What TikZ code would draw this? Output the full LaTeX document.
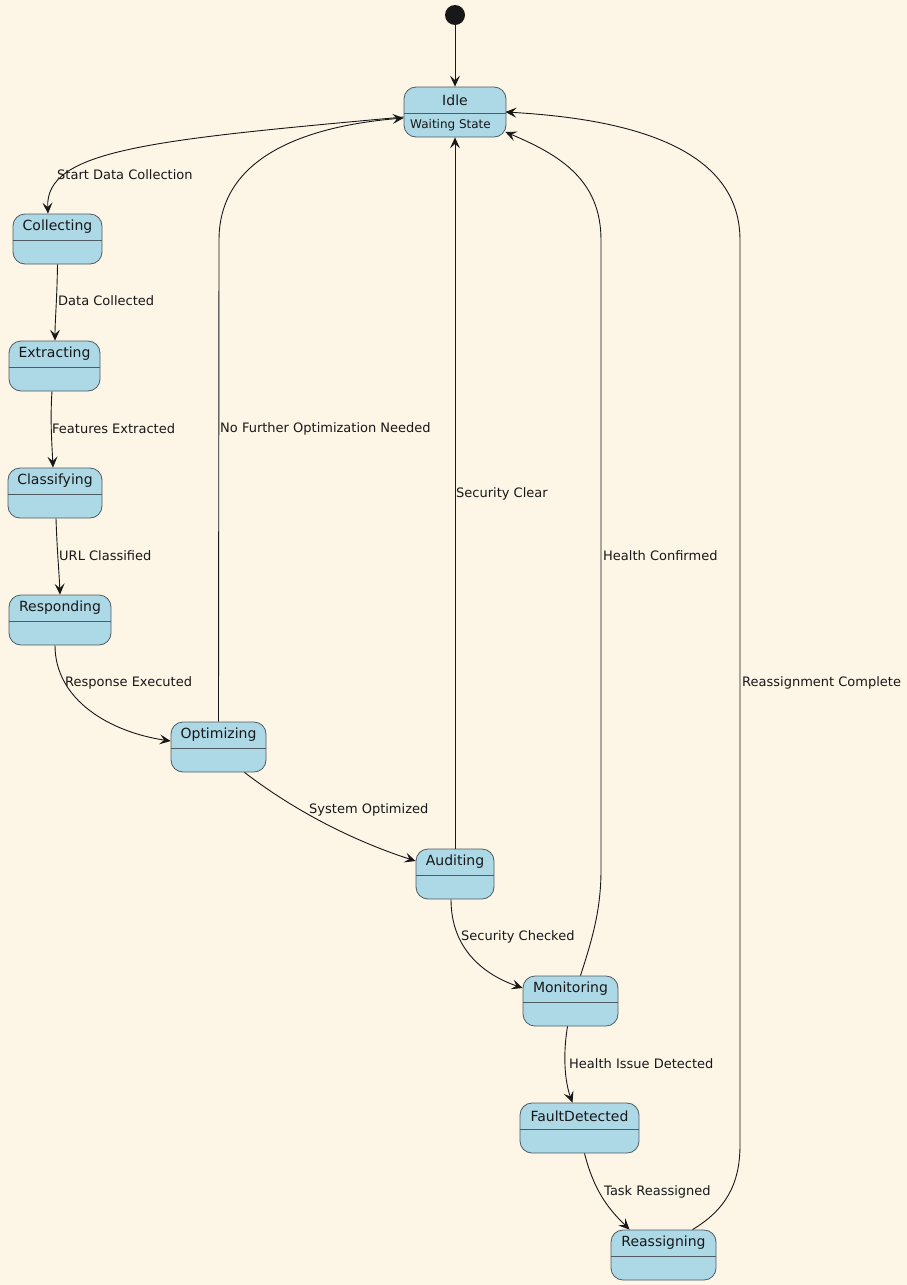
\documentclass[tikz,border=0pt]{standalone}
\usepackage{fontspec}
\setmainfont{DejaVu Sans}
\usetikzlibrary{arrows.meta}
\definecolor{bgcol}{HTML}{FDF5E6}
\definecolor{statefill}{HTML}{ADD8E6}
\definecolor{stateline}{HTML}{4F5B63}
\definecolor{ink}{HTML}{181818}
\tikzset{
  statebox/.style={draw=stateline, fill=statefill, rounded corners=12pt, line width=0.8pt,
    minimum height=50pt, inner sep=0pt},
  sepline/.style={draw=stateline, line width=0.8pt},
  title/.style={font=\fontsize{14}{16}\selectfont, text=ink, inner sep=0pt},
  desc/.style={font=\fontsize{12}{14}\selectfont, text=ink, inner sep=0pt, anchor=west},
  tr/.style={draw=ink, line width=0.9pt, -{Stealth[length=11pt,width=10pt,inset=4.5pt]}},
  trlabel/.style={font=\fontsize{13}{15}\selectfont, text=ink, inner sep=0pt, anchor=west},
}
\begin{document}
\begin{tikzpicture}[x=1pt,y=-1pt]
\useasboundingbox (0,0) rectangle (907,1285);
\fill[bgcol] (0,0) rectangle (907,1285);

% initial pseudo-state
\node[circle, fill=ink, minimum size=20pt, inner sep=0pt] (start) at (455,15) {};

% states: box, title, separator
\node[statebox, minimum width=102pt] (idle) at (455,112) {};
\node[title] (idlet) at (455,100) {Idle};
\node[desc] (idled) at (410,125) {Waiting State};

\node[statebox, minimum width=89pt] (collecting) at (57.5,239) {};
\node[title] (collectingt) at (57.5,227) {Collecting};

\node[statebox, minimum width=91pt] (extracting) at (54.5,366) {};
\node[title] (extractingt) at (54.5,354) {Extracting};

\node[statebox, minimum width=94pt] (classifying) at (55,493) {};
\node[title] (classifyingt) at (55,481) {Classifying};

\node[statebox, minimum width=102pt] (responding) at (60,620) {};
\node[title] (respondingt) at (60,608) {Responding};

\node[statebox, minimum width=95pt] (optimizing) at (218.5,747) {};
\node[title] (optimizingt) at (218.5,735) {Optimizing};

\node[statebox, minimum width=78pt] (auditing) at (455,874) {};
\node[title] (auditingt) at (455,862) {Auditing};

\node[statebox, minimum width=95pt] (monitoring) at (570.5,1001) {};
\node[title] (monitoringt) at (570.5,989) {Monitoring};

\node[statebox, minimum width=119pt] (fault) at (579.5,1128) {};
\node[title] (faultt) at (579.5,1116) {FaultDetected};

\node[statebox, minimum width=105pt] (reassigning) at (663.5,1255) {};
\node[title] (reassigningt) at (663.5,1243) {Reassigning};

\foreach \s in {idle,collecting,extracting,classifying,responding,optimizing,auditing,monitoring,fault,reassigning}
  \draw[sepline] ([yshift=-1pt]\s.west) -- ([yshift=-1pt]\s.east);

% transitions
\draw[tr] (start) -- (idle.north);

\draw[tr] ([yshift=-5pt]idle.west) .. controls (150,140) and (45,150) .. ([xshift=-9.5pt]collecting.north);
\node[trlabel] (l1) at (57,175) {Start Data Collection};

\draw[tr] (collecting.south) .. controls (57,300) and (55,320) .. ([xshift=0.5pt]extracting.north);
\node[trlabel] (l2) at (58,301) {Data Collected};

\draw[tr] ([xshift=-2.5pt]extracting.south) .. controls (50,420) and (52,445) .. ([xshift=-2pt]classifying.north);
\node[trlabel] (l3) at (52,429) {Features Extracted};

\draw[tr] ([xshift=1pt]classifying.south) .. controls (57,550) and (59,570) .. (responding.north);
\node[trlabel] (l4) at (59,556) {URL Classified};

\draw[tr] ([xshift=-5pt]responding.south) .. controls (55,700) and (110,732) .. ([yshift=6pt]optimizing.west);
\node[trlabel] (l5) at (65,683) {Response Executed};

\draw[tr] (optimizing.north) -- (219,240) .. controls (219,150) and (320,125) .. ([yshift=-6pt]idle.west);
\node[trlabel] (l6) at (220,429) {No Further Optimization Needed};

\draw[tr] ([xshift=26pt]optimizing.south) .. controls (300,815) and (360,843) .. ([yshift=13pt]auditing.west);
\node[trlabel] (l7) at (309,810) {System Optimized};

\draw[tr] (auditing.north) -- (idle.south);
\node[trlabel] (l8) at (456,494) {Security Clear};

\draw[tr] ([xshift=-4pt]auditing.south) .. controls (451,950) and (485,975) .. ([yshift=13pt]monitoring.west);
\node[trlabel] (l9) at (461,937) {Security Checked};

\draw[tr] ([xshift=10pt]monitoring.north) .. controls (592,940) and (601,910) .. (601,870) -- (601,240)
  .. controls (601,180) and (560,155) .. ([xshift=-1pt,yshift=-20pt]idle.east);
\node[trlabel] (l10) at (603,556) {Health Confirmed};

\draw[tr] ([xshift=-3pt]monitoring.south) .. controls (562,1060) and (566,1085) .. ([xshift=-7pt]fault.north);
\node[trlabel] (l11) at (569,1064) {Health Issue Detected};

\draw[tr] ([xshift=5pt]fault.south) .. controls (595,1195) and (612,1212) .. ([xshift=-34pt]reassigning.north);
\node[trlabel] (l12) at (604,1192) {Task Reassigned};

\draw[tr] ([xshift=29pt]reassigning.north) .. controls (725,1210) and (740,1185) .. (740,1145) -- (740,240)
  .. controls (740,140) and (610,118) .. ([xshift=-1pt]idle.east);
\node[trlabel] (l13) at (742,683) {Reassignment Complete};
\end{tikzpicture}
\end{document}
